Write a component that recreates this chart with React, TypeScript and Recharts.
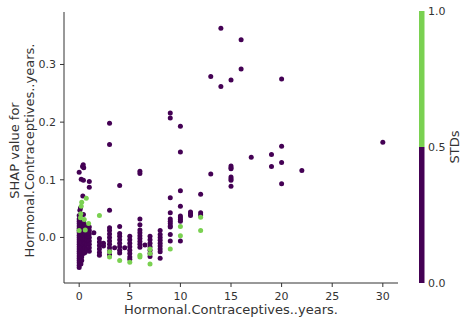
import React from "react";
import { ScatterChart, Scatter, XAxis, YAxis, Label } from "recharts";

// SHAP dependence of Hormonal.Contraceptives..years., coloured by STDs (0 = purple, 1 = green)
const xTicks = [0, 5, 10, 15, 20, 25, 30];
const yTicks = [0, 0.1, 0.2, 0.3];
const colorbarTicks = ["1.0", "0.5", "0.0"];

const LOW = "#440154";
const HIGH = "#7ad151";
const AXIS = "#333333";
const FONT = "'DejaVu Sans', sans-serif";

// [years, shap] with STDs = 0
const stdsZero: [number, number][] = [
  [0, 0.113], [0.13, 0.051], [0.07, 0.047], [0, 0.038], [0, 0.032], [0, 0.028],
  [0, 0.024], [0, 0.02], [0, 0.016], [0, 0.012], [0, 0.008], [0, 0.004], [0, 0.0],
  [0, -0.004], [0, -0.008], [0, -0.012], [0, -0.016], [0, -0.02], [0, -0.024],
  [0, -0.028], [0, -0.032], [0, -0.036], [0, -0.04], [0, -0.044], [0, -0.048], [0, -0.052],
  [0.08, 0.03], [0.08, 0.018], [0.08, 0.006], [0.08, -0.006], [0.08, -0.018], [0.08, -0.03], [0.08, -0.042],
  [0.17, 0.026], [0.17, 0.014], [0.17, 0.002], [0.17, -0.01], [0.17, -0.022], [0.17, -0.034], [0.17, -0.046],
  [0.25, 0.03], [0.25, 0.022], [0.25, 0.014], [0.25, 0.006], [0.25, -0.002], [0.25, -0.01],
  [0.25, -0.018], [0.25, -0.026], [0.25, -0.034], [0.25, -0.04],
  [0.33, 0.123], [0.4, 0.126], [0.45, 0.121], [0.2, 0.101], [0.42, 0.099], [0.36, 0.072],
  [0.42, 0.04], [0.42, 0.028], [0.42, 0.02], [0.42, 0.012], [0.42, 0.004], [0.42, -0.004],
  [0.42, -0.012], [0.42, -0.02], [0.42, -0.028],
  [0.58, 0.022], [0.58, 0.014], [0.58, 0.006], [0.58, -0.002], [0.58, -0.01], [0.58, -0.018], [0.58, -0.026],
  [0.75, 0.02], [0.75, 0.012], [0.75, 0.004], [0.75, -0.004], [0.75, -0.012], [0.75, -0.02],
  [1, 0.097], [1, 0.087], [1, 0.018], [1, 0.012], [1, 0.006], [1, 0.0], [1, -0.006],
  [1, -0.012], [1, -0.018], [1, -0.024],
  [1.45, 0.008],
  [2, -0.002], [2, -0.008], [2, -0.014], [2, -0.02], [2, -0.026], [2, -0.031],
  [2.4, -0.015], [2.4, -0.01],
  [3, 0.198], [3, 0.161], [3, 0.047], [3, 0.017], [3, 0.012], [3, 0.006], [3, 0.0],
  [3, -0.006], [3, -0.012], [3, -0.018], [3, -0.024], [3, -0.03],
  [3.5, -0.018],
  [4, 0.09], [4, 0.019], [4, 0.007], [4, 0.002], [4, -0.004], [4, -0.01], [4, -0.016],
  [4, -0.022], [4, -0.027],
  [4.5, -0.018],
  [5, 0.002], [5, -0.004], [5, -0.01], [5, -0.016], [5, -0.022], [5, -0.028], [5, -0.034], [5, -0.038],
  [6, 0.115], [6, 0.111], [6, 0.032], [6, 0.022], [6, 0.013], [6, 0.008], [6, 0.003],
  [6, -0.002], [6, -0.007], [6, -0.012], [6, -0.017],
  [6.5, -0.013],
  [7, 0.002], [7, -0.004], [7, -0.01], [7, -0.016], [7, -0.022], [7, -0.028], [7, -0.033],
  [8, 0.012], [8, 0.005], [8, 0.0], [8, -0.005], [8, -0.01], [8, -0.015], [8, -0.02],
  [8, -0.025], [8, -0.036],
  [9, 0.216], [9, 0.207], [9, 0.069], [9, 0.043], [9, 0.032], [9, 0.028], [9, 0.024],
  [9, 0.02], [9, 0.018], [9, 0.005], [9, -0.006],
  [10, 0.193], [10, 0.148], [10, 0.081], [10, 0.054], [10, 0.037], [10, 0.034],
  [10, 0.031], [10, 0.028], [10, -0.006],
  [11, 0.044], [11, 0.041], [11, 0.038],
  [12, 0.075], [12, 0.043], [12, 0.039],
  [13, 0.279], [13, 0.11],
  [14, 0.363], [14, 0.262],
  [15, 0.273], [15, 0.124], [15, 0.121], [15, 0.119], [15, 0.105], [15, 0.102],
  [15, 0.099], [15, 0.089],
  [16, 0.343], [16, 0.292],
  [17, 0.139],
  [19, 0.144], [19, 0.123],
  [20, 0.275], [20, 0.158], [20, 0.13], [20, 0.093],
  [22, 0.116],
  [30, 0.165],
];

// [years, shap] with STDs = 1
const stdsOne: [number, number][] = [
  [0, 0.012], [0.16, 0.041], [0.13, 0.034], [0.2, 0.054], [0.25, 0.061], [0.5, 0.031],
  [0.6, 0.013], [0.7, 0.068], [0.93, 0.024],
  [2, 0.038],
  [3, -0.025], [3, -0.034],
  [4, -0.04],
  [5, -0.043],
  [6, -0.031], [6, -0.034],
  [7, -0.02], [7, -0.028], [7, -0.046],
  [9, -0.02],
  [10, 0.019], [10, 0.003],
  [12, 0.035], [12, 0.012],
];

const toRows = (pts: [number, number][]) => pts.map(([x, y]) => ({ x, y }));

const Dot = (props: any) => {
  const { cx, cy, fill } = props;
  return <circle cx={cx} cy={cy} r={2.5} fill={fill} />;
};

const tickStyle = { fontSize: 11, fill: AXIS, fontFamily: FONT };

export default function App() {
  return (
    <div style={{ position: "absolute", left: 0, top: 0, width: 468, height: 324, background: "#fff" }}>
      <ScatterChart width={468} height={324} margin={{ top: 12, right: 70, bottom: 11, left: 24 }}>
        <XAxis
          type="number"
          dataKey="x"
          domain={[-1.5, 31.5]}
          ticks={xTicks}
          allowDataOverflow
          height={30}
          tick={tickStyle}
          tickSize={4}
          tickMargin={5}
          stroke={AXIS}
          tickLine={{ stroke: AXIS }}
          axisLine={{ stroke: AXIS }}
        >
          <Label
            content={({ viewBox }: any) => (
              <text
                x={viewBox.x + viewBox.width / 2}
                y={viewBox.y + 31}
                textAnchor="middle"
                fontSize={13}
                fontFamily={FONT}
                fill={AXIS}
              >
                Hormonal.Contraceptives..years.
              </text>
            )}
          />
        </XAxis>
        <YAxis
          type="number"
          dataKey="y"
          domain={[-0.079, 0.391]}
          ticks={yTicks}
          allowDataOverflow
          width={40}
          tick={tickStyle}
          tickSize={4}
          tickMargin={4}
          tickFormatter={(v: number) => v.toFixed(1)}
          stroke={AXIS}
          tickLine={{ stroke: AXIS }}
          axisLine={{ stroke: AXIS }}
        >
          <Label
            content={({ viewBox }: any) => {
              const cy = viewBox.y + viewBox.height / 2 + 3;
              return (
                <g fontSize={13} fontFamily={FONT} fill={AXIS} textAnchor="middle">
                  <text x={19} y={cy} transform={`rotate(-90 19 ${cy})`}>SHAP value for</text>
                  <text x={34} y={cy} transform={`rotate(-90 34 ${cy})`}>Hormonal.Contraceptives..years.</text>
                </g>
              );
            }}
          />
        </YAxis>
        <Scatter data={toRows(stdsZero)} fill={LOW} shape={Dot} isAnimationActive={false} />
        <Scatter data={toRows(stdsOne)} fill={HIGH} shape={Dot} isAnimationActive={false} />
      </ScatterChart>

      {/* colour bar for STDs */}
      <svg width={468} height={324} style={{ position: "absolute", left: 0, top: 0, pointerEvents: "none" }}>
        <rect x={419} y={11} width={5.5} height={136} fill={HIGH} />
        <rect x={419} y={147} width={5.5} height={136} fill={LOW} />
        {colorbarTicks.map((t, i) => (
          <text
            key={t}
            x={428}
            y={11 + i * 136 + 4}
            fontSize={11}
            fontFamily={FONT}
            fill={AXIS}
          >
            {t}
          </text>
        ))}
        <text
          x={459}
          y={147}
          fontSize={13}
          fontFamily={FONT}
          fill={AXIS}
          textAnchor="middle"
          transform="rotate(-90 459 147)"
        >
          STDs
        </text>
      </svg>
    </div>
  );
}
